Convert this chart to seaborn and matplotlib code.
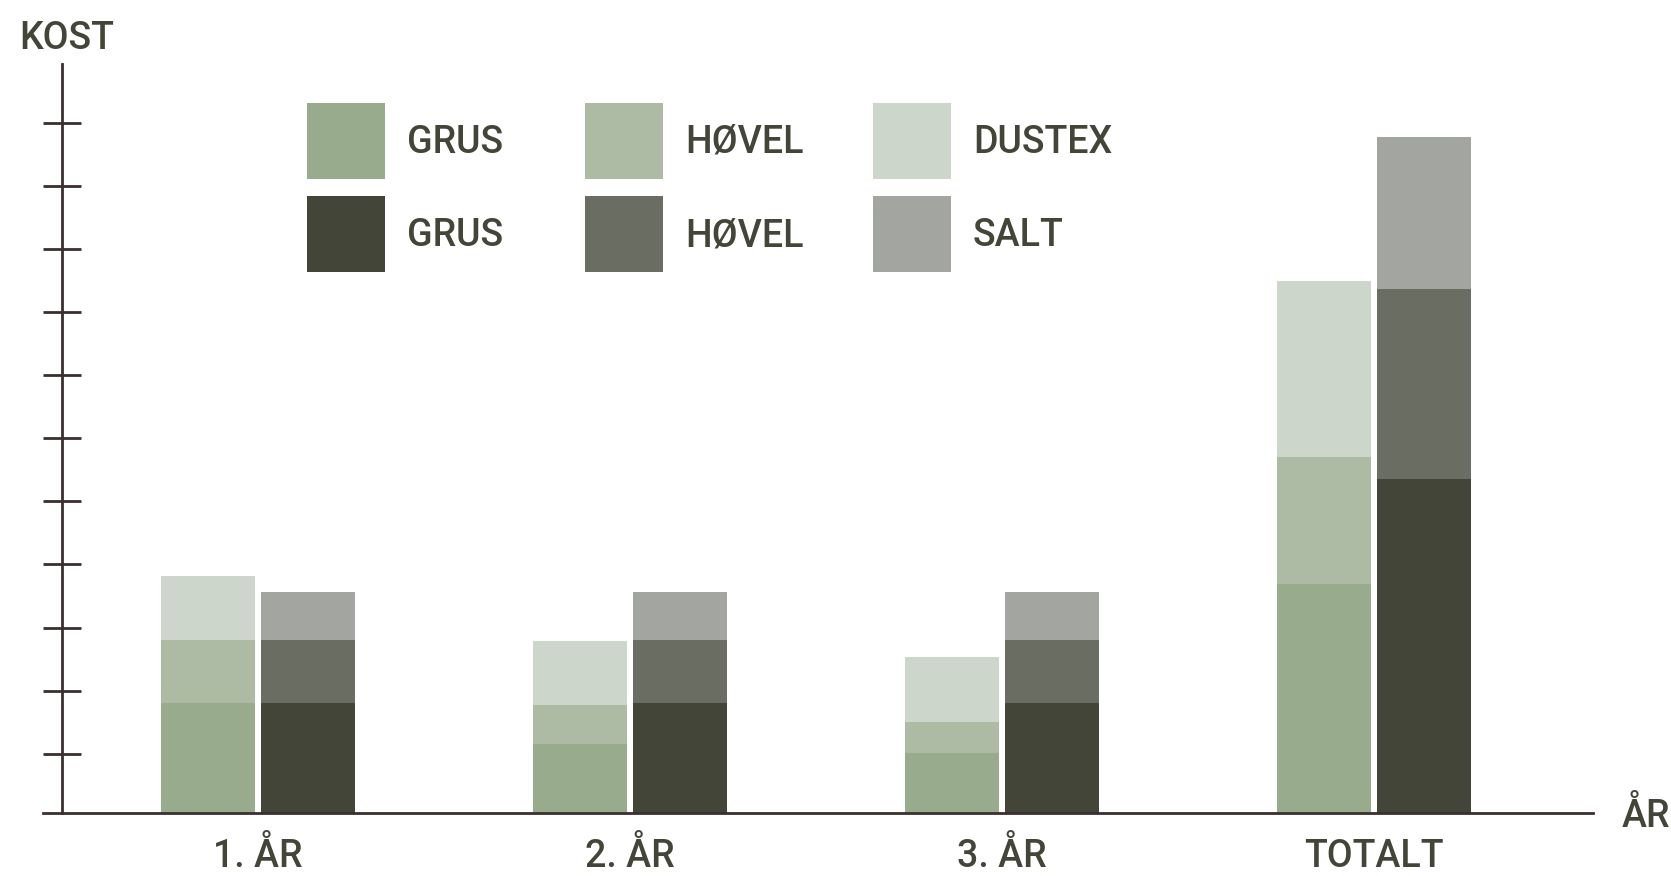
import numpy as np
import pandas as pd
import seaborn as sns
from matplotlib import pyplot as plt
from matplotlib.patches import Rectangle

# Data (in tick units)
kategorier = ["1. ÅR", "2. ÅR", "3. ÅR", "TOTALT"]
grus_lys = [1.75, 1.10, 0.95, 3.63]
hovel_lys = [1.00, 0.62, 0.50, 2.01]
dustex = [1.00, 1.00, 1.02, 2.79]
grus_mork = [1.75, 1.75, 1.75, 5.30]
hovel_mork = [1.00, 1.00, 1.00, 3.01]
salt = [0.76, 0.76, 0.76, 2.40]

lag_lys = [grus_lys, hovel_lys, dustex]
lag_mork = [grus_mork, hovel_mork, salt]
farger_lys = ["#98ab8d", "#aebba4", "#cdd6ca"]
farger_mork = ["#424538", "#6a6d62", "#a3a5a0"]
navn_lys = ["GRUS", "HØVEL", "DUSTEX"]
navn_mork = ["GRUS", "HØVEL", "SALT"]

akse_farge = "#3b2f2f"
tekst_farge = "#424538"

sns.set_style("white")
plt.rcParams['font.family'] = ['Roboto', 'DejaVu Sans']
plt.rcParams['font.weight'] = 'medium'

W, H = 1671, 876
fig = plt.figure(figsize=(W / 100, H / 100), dpi=100)


def fx(px):
    return px / W


def fy(py):
    return (H - py) / H


ax = fig.add_axes([fx(42.6), fy(813), fx(1593) - fx(42.6), fy(64) - fy(813)])

# stacked + dodged bars: draw cumulative tops first, lower layers over them
cum_lys = np.cumsum(np.array(lag_lys), axis=0)
cum_mork = np.cumsum(np.array(lag_mork), axis=0)
for i in reversed(range(3)):
    df = pd.DataFrame({
        "kategori": kategorier * 2,
        "side": ["lys"] * 4 + ["mork"] * 4,
        "verdi": list(cum_lys[i]) + list(cum_mork[i]),
    })
    sns.barplot(data=df, x="kategori", y="verdi", hue="side", hue_order=["lys", "mork"],
                palette={"lys": farger_lys[i], "mork": farger_mork[i]},
                width=0.54, gap=0.064, linewidth=0, saturation=1, legend=False, ax=ax)

ax.set_xlim(-0.579, 3.589)
ax.set_ylim(0, 11.875)
ax.set_yticks(np.arange(1, 12) - 0.06)
ax.set_xlabel("")
ax.set_ylabel("")

for side in ["top", "right"]:
    ax.spines[side].set_visible(False)
for side in ["left", "bottom"]:
    ax.spines[side].set_color(akse_farge)
    ax.spines[side].set_linewidth(2)
ax.spines["left"].set_position(("axes", 0.01237))

ax.tick_params(axis="y", direction="inout", length=28, width=2, color=akse_farge,
               labelleft=False, left=True)
ax.tick_params(axis="x", length=0, pad=18, labelsize=27, labelcolor=tekst_farge)

# axis titles
fig.text(fx(19), fy(49), "KOST", fontsize=27, color=tekst_farge, va="baseline")
fig.text(fx(1622), fy(827), "ÅR", fontsize=27, color=tekst_farge, va="baseline")

# legend (two rows, three columns)
kol_x = [307, 585, 873]
rad_y = [141, 234]
for j in range(3):
    for r, (farger, navn) in enumerate([(farger_lys, navn_lys), (farger_mork, navn_mork)]):
        fig.add_artist(Rectangle((fx(kol_x[j]), fy(rad_y[r] + 38)), fx(78), 76 / H,
                                 transform=fig.transFigure, facecolor=farger[j], linewidth=0))
        fig.text(fx(kol_x[j] + 100), fy(rad_y[r] + 12), navn[j], fontsize=27,
                 color=tekst_farge, va="baseline")

fig.savefig("out.png", dpi=100)
